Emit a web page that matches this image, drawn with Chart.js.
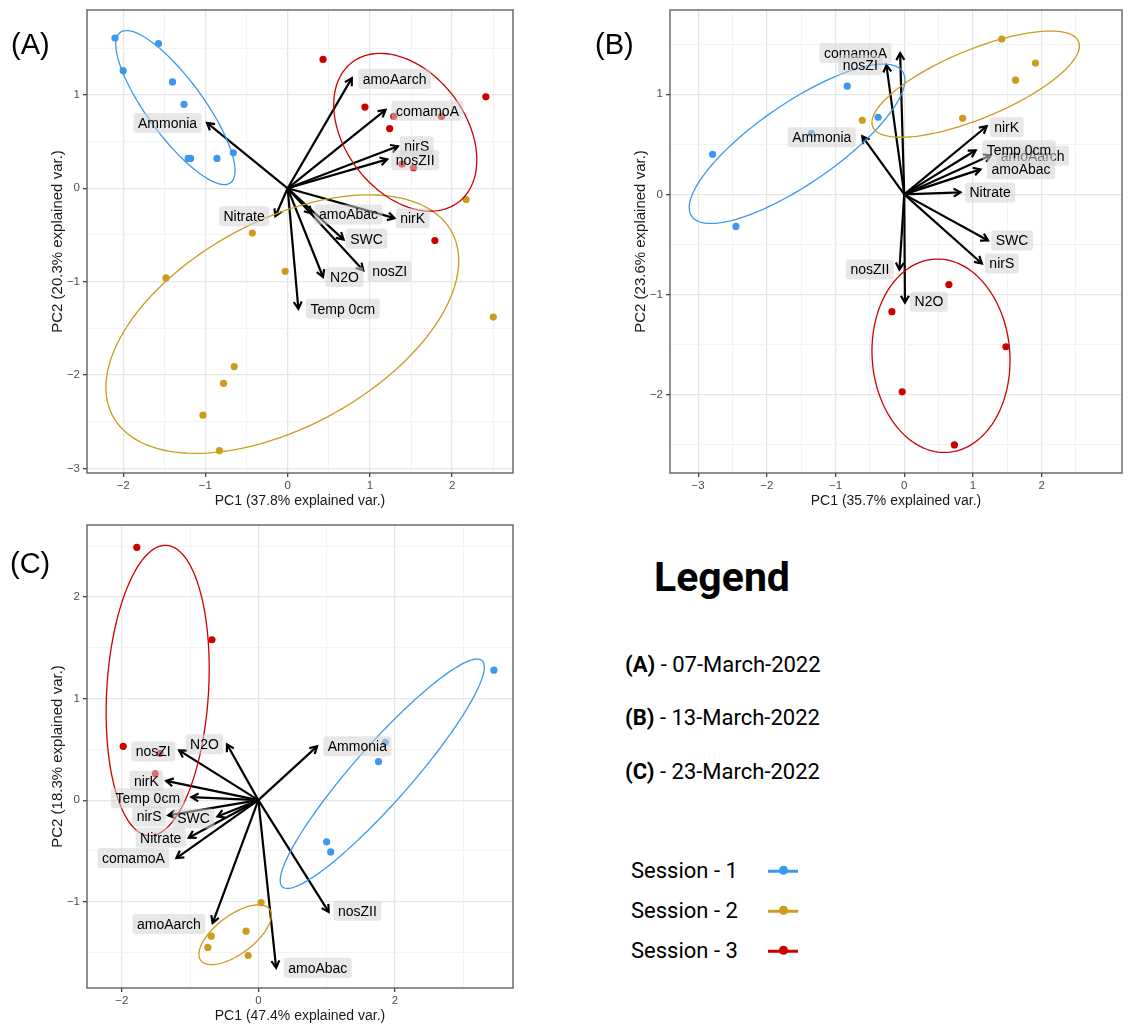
<!DOCTYPE html>
<html lang="en">
<head>
  <meta charset="UTF-8" />
  <title>PCA biplots</title>
  <script src="https://cdn.jsdelivr.net/npm/chart.js"></script>
  <style>
    body { margin: 0; background: #fff; }
    #page { position: relative; width: 1137px; height: 1025px; font-family: "Liberation Sans", Arial, sans-serif; }
    canvas { position: absolute; }
    .tag { position: absolute; font-size: 29px; line-height: 1; transform: translateY(-50%); }
    .leg { position: absolute; font-family: Roboto, sans-serif; transform: translateY(-50%); line-height: 1.2; white-space: nowrap; }
    .mark { position: absolute; width: 30px; height: 2.5px; transform: translateY(-50%); }
    .mark i { position: absolute; left: 10.5px; top: -3.75px; width: 9px; height: 9px; border-radius: 50%; background: inherit; }
  </style>
</head>
<body>
<div id="page">
  <canvas id="panelA" width="520" height="510" style="left:0;top:0"></canvas>
  <canvas id="panelB" width="546" height="510" style="left:583px;top:0"></canvas>
  <canvas id="panelC" width="520" height="510" style="left:0;top:515px"></canvas>

  <div class="tag" style="left:11px;top:44px">(A)</div>
  <div class="tag" style="left:595px;top:44px">(B)</div>
  <div class="tag" style="left:10px;top:563px">(C)</div>

  <div class="leg" style="left:654px;top:578px;font-size:41px;font-weight:700">Legend</div>
  <div class="leg" style="left:625px;top:665px;font-size:22px"><b>(A)</b> - 07-March-2022</div>
  <div class="leg" style="left:625px;top:718px;font-size:22px"><b>(B)</b> - 13-March-2022</div>
  <div class="leg" style="left:625px;top:772px;font-size:22px"><b>(C)</b> - 23-March-2022</div>
  <div id="sessionLegend"></div>
</div>

<script>
  // sessions and their colours
  const sessions = ['Session - 1', 'Session - 2', 'Session - 3'];
  const colours = ['#3b98ef', '#cd9b1d', '#cd0000'];
  const variables = ['amoAarch', 'comamoA', 'nirS', 'nosZII', 'Ammonia', 'Nitrate', 'amoAbac', 'nirK', 'SWC', 'nosZI', 'N2O', 'Temp 0cm'];

  // (A) 07-March-2022
  const a1x = [-2.10, -1.57, -2.00, -1.40, -1.26, -1.21, -1.18, -0.86, -0.66];
  const a1y = [1.61, 1.55, 1.26, 1.14, 0.90, 0.32, 0.32, 0.32, 0.38];
  const a2x = [2.17, -0.43, -1.48, -0.03, 2.50, -0.65, -0.78, -1.03, -0.83];
  const a2y = [-0.12, -0.48, -0.96, -0.89, -1.38, -1.91, -2.09, -2.43, -2.81];
  const a3x = [0.43, 2.41, 0.94, 1.29, 1.87, 1.24, 1.39, 1.53, 1.79];
  const a3y = [1.38, 0.98, 0.87, 0.77, 0.77, 0.64, 0.26, 0.22, -0.56];
  const aArrowX = [0.78, 1.19, 1.34, 1.21, -0.98, -0.15, 0.29, 1.30, 0.68, 0.92, 0.43, 0.13];
  const aArrowY = [1.18, 0.84, 0.45, 0.31, 0.70, -0.30, -0.27, -0.32, -0.55, -0.88, -0.95, -1.29];
  const aLabelX = [1.30, 1.70, 1.57, 1.55, -1.46, -0.53, 0.74, 1.52, 0.96, 1.24, 0.69, 0.67];
  const aLabelY = [1.17, 0.83, 0.45, 0.30, 0.70, -0.30, -0.28, -0.32, -0.54, -0.89, -0.95, -1.29];
  // ellipses: centre x, centre y, half width, half height, correlation
  const aEllipses = [[-1.365, 0.865, 0.725, 0.825, -0.82], [-0.065, -1.455, 2.145, 1.385, 0.49], [1.43, 0.60, 0.87, 0.845, -0.35]];
  const aXRange = [-2.44, 2.74], aYRange = [-3.05, 1.91];
  const aXTicks = [-2, -1, 0, 1, 2], aYTicks = [-3, -2, -1, 0, 1];

  // (B) 13-March-2022
  const b1x = [-2.79, -2.45, -0.83, -0.38, -1.35];
  const b1y = [0.40, -0.32, 1.08, 0.77, 0.61];
  const b2x = [1.42, 1.91, 1.62, 0.85, -0.61];
  const b2y = [1.55, 1.31, 1.14, 0.76, 0.74];
  const b3x = [0.65, -0.18, 1.48, -0.03, 0.73];
  const b3y = [-0.90, -1.17, -1.52, -1.97, -2.50];
  const bArrowX = [1.26, -0.06, 1.13, -0.07, -0.61, 0.82, 1.11, 1.20, 1.22, -0.26, 0.01, 1.04];
  const bArrowY = [0.39, 1.41, -0.69, -0.75, 0.58, 0.02, 0.25, 0.68, -0.46, 1.29, -1.08, 0.44];
  const bLabelX = [1.87, -0.71, 1.42, -0.50, -1.20, 1.25, 1.70, 1.49, 1.57, -0.64, 0.36, 1.67];
  const bLabelY = [0.385, 1.41, -0.69, -0.75, 0.57, 0.02, 0.25, 0.67, -0.46, 1.29, -1.07, 0.44];
  const bEllipses = [[-1.56, 0.505, 1.57, 0.795, 0.80], [1.04, 1.10, 1.51, 0.53, 0.72], [0.535, -1.61, 1.005, 0.965, -0.05]];
  const bXRange = [-3.41, 3.17], bYRange = [-2.78, 1.84];
  const bXTicks = [-3, -2, -1, 0, 1, 2], bYTicks = [-2, -1, 0, 1];

  // (C) 23-March-2022
  const c1x = [3.45, 1.86, 1.76, 1.00, 1.06];
  const c1y = [1.28, 0.57, 0.38, -0.41, -0.51];
  const c2x = [0.04, -0.18, -0.69, -0.74, -0.15];
  const c2y = [-1.01, -1.29, -1.34, -1.45, -1.53];
  const c3x = [-1.78, -0.68, -1.98, -1.44, -1.51];
  const c3y = [2.49, 1.58, 0.53, 0.46, 0.26];
  const cArrowX = [-0.67, -1.20, -1.32, 1.03, 0.86, -1.02, 0.26, -1.35, -0.60, -1.16, -0.46, -0.98];
  const cArrowY = [-1.21, -0.57, -0.15, -1.10, 0.53, -0.37, -1.65, 0.19, -0.16, 0.49, 0.55, 0.03];
  const cLabelX = [-1.31, -1.83, -1.60, 1.45, 1.45, -1.43, 0.87, -1.64, -0.95, -1.54, -0.79, -1.62];
  const cLabelY = [-1.22, -0.57, -0.16, -1.09, 0.53, -0.37, -1.65, 0.19, -0.18, 0.48, 0.55, 0.02];
  const cEllipses = [[1.815, 0.26, 1.495, 1.13, 0.93], [-0.34, -1.325, 0.53, 0.295, 0.65], [-1.475, 1.08, 0.755, 1.43, 0.15]];
  const cXRange = [-2.51, 3.73], cYRange = [-1.85, 2.71];
  const cXTicks = [-2, 0, 2], cYTicks = [-1, 0, 1, 2];

  Chart.defaults.font.family = '"Liberation Sans", Arial, sans-serif';

  function minus(v) {
    return v < 0 ? '\u2212' + Math.abs(v) : String(v);
  }

  function axis(range, majors, title, horizontal) {
    const step = majors[1] - majors[0];
    const isMajor = v => majors.some(m => Math.abs(m - v) < 1e-6);
    const values = [];
    for (const m of majors) values.push(m - step / 2, m);
    values.push(majors[majors.length - 1] + step / 2);
    const inside = values.filter(v => v > range[0] && v < range[1]);
    return {
      type: 'linear',
      position: horizontal ? 'bottom' : 'left',
      min: range[0],
      max: range[1],
      afterBuildTicks: s => { s.ticks = inside.map(v => ({ value: v })); },
      afterFit: s => { if (horizontal) s.height = 37; else s.width = 87; },
      ticks: {
        autoSkip: false, maxRotation: 0, padding: horizontal ? 2 : 3,
        color: '#4d4d4d', font: { size: 11.5 },
        callback: v => isMajor(v) ? minus(v) : ''
      },
      grid: {
        color: c => isMajor(c.tick.value) ? '#e6e6e6' : '#f3f3f3',
        lineWidth: c => isMajor(c.tick.value) ? 1.3 : 1,
        tickLength: 4,
        tickColor: c => isMajor(c.tick.value) ? '#444' : 'rgba(0,0,0,0)'
      },
      border: { display: false },
      title: {
        display: true, text: title, color: '#1a1a1a', font: { size: horizontal ? 14 : 15 },
        padding: horizontal ? { top: 0, bottom: 0 } : { top: 49, bottom: 0 }
      }
    };
  }

  function biplotPlugin(arrowX, arrowY, labelX, labelY, ellipses) {
    return {
      id: 'biplot',
      beforeDatasetsDraw(chart) {
        const { ctx, chartArea: a, scales: { x, y } } = chart;
        const x0 = x.getPixelForValue(0), y0 = y.getPixelForValue(0);
        ctx.save();
        ctx.beginPath();
        ctx.rect(a.left, a.top, a.width, a.height);
        ctx.clip();
        ctx.strokeStyle = '#000';
        ctx.lineWidth = 2.2;
        variables.forEach((v, i) => {
          const x1 = x.getPixelForValue(arrowX[i]), y1 = y.getPixelForValue(arrowY[i]);
          const ang = Math.atan2(y1 - y0, x1 - x0);
          ctx.beginPath();
          ctx.moveTo(x0, y0);
          ctx.lineTo(x1, y1);
          ctx.stroke();
          ctx.beginPath();
          ctx.moveTo(x1 - 8 * Math.cos(ang - Math.PI / 6), y1 - 8 * Math.sin(ang - Math.PI / 6));
          ctx.lineTo(x1, y1);
          ctx.lineTo(x1 - 8 * Math.cos(ang + Math.PI / 6), y1 - 8 * Math.sin(ang + Math.PI / 6));
          ctx.stroke();
        });
        ctx.restore();
      },
      afterDatasetsDraw(chart) {
        const { ctx, chartArea: a, scales: { x, y } } = chart;
        ctx.save();
        ctx.beginPath();
        ctx.rect(a.left, a.top, a.width, a.height);
        ctx.clip();
        // normal ellipses per session
        ellipses.forEach((e, k) => {
          const [cx, cy, wx, wy, rho] = e;
          const s = Math.sqrt(1 - rho * rho);
          ctx.beginPath();
          for (let n = 0; n <= 144; n++) {
            const t = n / 144 * 2 * Math.PI;
            const px = x.getPixelForValue(cx + wx * Math.cos(t));
            const py = y.getPixelForValue(cy + wy * (rho * Math.cos(t) + s * Math.sin(t)));
            if (n) ctx.lineTo(px, py); else ctx.moveTo(px, py);
          }
          ctx.strokeStyle = colours[k];
          ctx.lineWidth = 1.3;
          ctx.stroke();
        });
        // variable labels
        ctx.font = '14px "Liberation Sans", Arial, sans-serif';
        ctx.textAlign = 'center';
        ctx.textBaseline = 'middle';
        variables.forEach((v, i) => {
          const px = x.getPixelForValue(labelX[i]), py = y.getPixelForValue(labelY[i]);
          const w = ctx.measureText(v).width + 9, h = 20;
          ctx.beginPath();
          ctx.roundRect(px - w / 2, py - h / 2, w, h, 3);
          ctx.fillStyle = 'rgba(212,212,212,0.55)';
          ctx.fill();
          ctx.fillStyle = '#000';
          ctx.fillText(v, px, py + 1);
        });
        ctx.restore();
        ctx.strokeStyle = '#555';
        ctx.lineWidth = 1.3;
        ctx.strokeRect(a.left, a.top, a.width, a.height);
      }
    };
  }

  function panel(id, xs, ys, xRange, yRange, xTicks, yTicks, xTitle, yTitle, plugin, padRight) {
    new Chart(document.getElementById(id), {
      type: 'scatter',
      data: {
        datasets: sessions.map((s, k) => ({
          label: s,
          data: xs[k].map((v, i) => ({ x: v, y: ys[k][i] })),
          backgroundColor: colours[k],
          borderWidth: 0,
          pointRadius: 3.6
        }))
      },
      options: {
        responsive: false,
        animation: false,
        layout: { padding: { top: 10, right: padRight, left: 0, bottom: 0 } },
        plugins: { legend: { display: false }, tooltip: { enabled: false } },
        scales: {
          x: axis(xRange, xTicks, xTitle, true),
          y: axis(yRange, yTicks, yTitle, false)
        }
      },
      plugins: [plugin]
    });
  }

  panel('panelA', [a1x, a2x, a3x], [a1y, a2y, a3y], aXRange, aYRange, aXTicks, aYTicks,
    'PC1 (37.8% explained var.)', 'PC2 (20.3% explained var.)',
    biplotPlugin(aArrowX, aArrowY, aLabelX, aLabelY, aEllipses), 7);
  panel('panelB', [b1x, b2x, b3x], [b1y, b2y, b3y], bXRange, bYRange, bXTicks, bYTicks,
    'PC1 (35.7% explained var.)', 'PC2 (23.6% explained var.)',
    biplotPlugin(bArrowX, bArrowY, bLabelX, bLabelY, bEllipses), 7);
  panel('panelC', [c1x, c2x, c3x], [c1y, c2y, c3y], cXRange, cYRange, cXTicks, cYTicks,
    'PC1 (47.4% explained var.)', 'PC2 (18.3% explained var.)',
    biplotPlugin(cArrowX, cArrowY, cLabelX, cLabelY, cEllipses), 7);

  // session legend on the right
  const legendBox = document.getElementById('sessionLegend');
  sessions.forEach((s, k) => {
    const top = 871 + k * 40;
    legendBox.insertAdjacentHTML('beforeend',
      '<div class="leg" style="left:631px;top:' + top + 'px;font-size:22px">' + s + '</div>' +
      '<div class="mark" style="left:768px;top:' + top + 'px;background:' + colours[k] + '"><i></i></div>');
  });
</script>
</body>
</html>
